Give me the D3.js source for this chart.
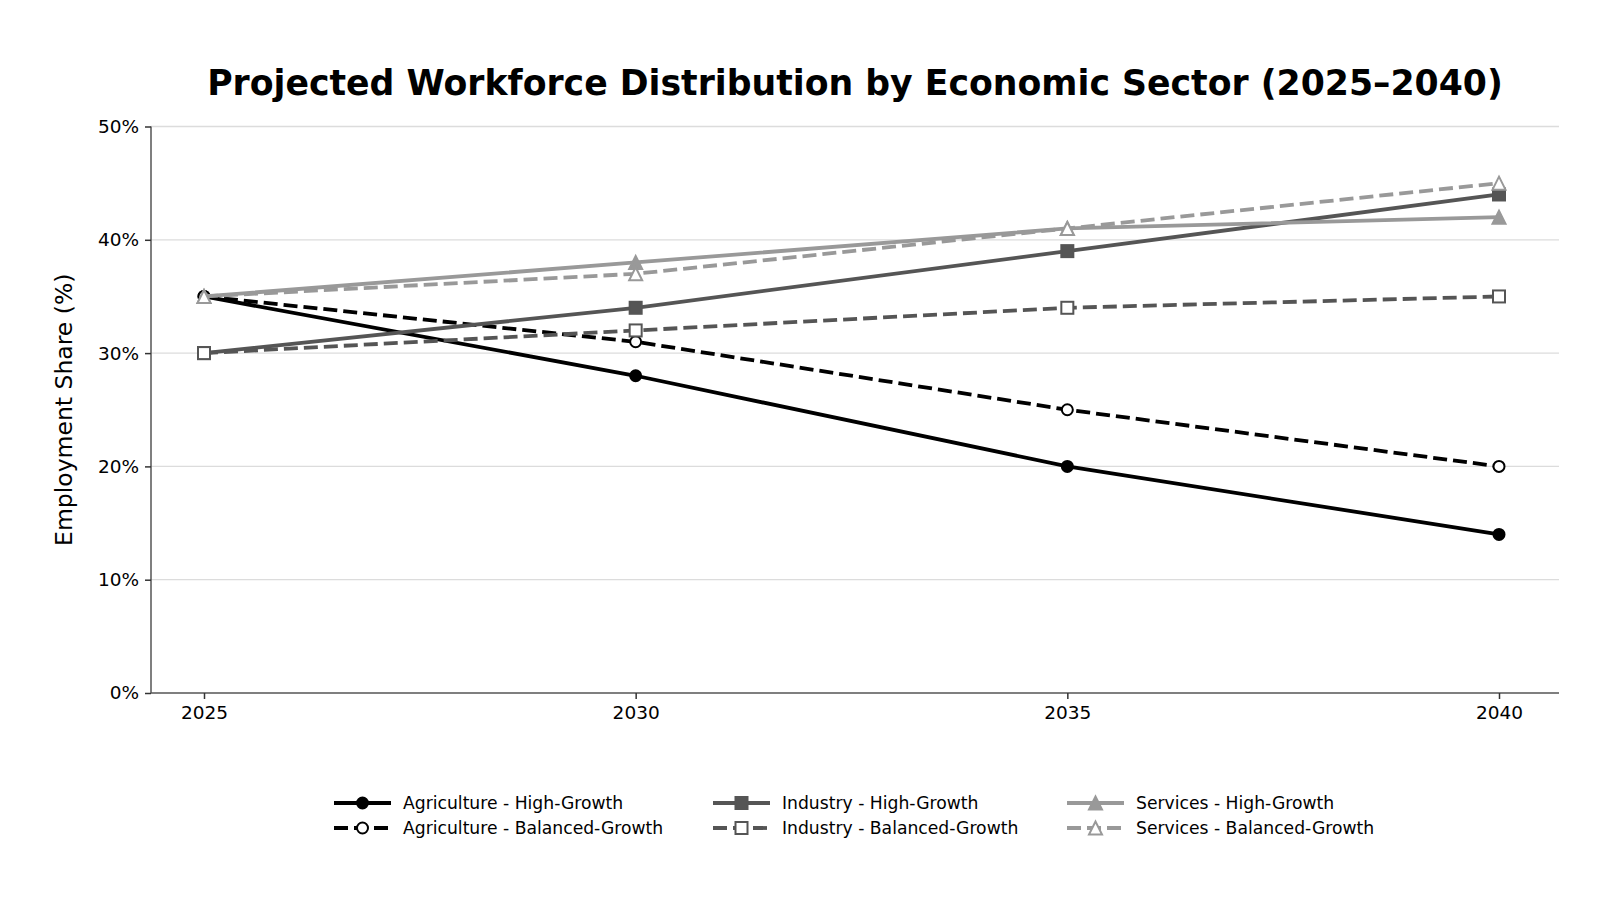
<!DOCTYPE html>
<html><head><meta charset="utf-8">
<script src="https://cdn.jsdelivr.net/npm/d3@7"></script>
<style>body{margin:0;background:#fff;font-family:"DejaVu Sans",sans-serif;}</style>
</head><body>
<svg id="c" width="1600" height="900"></svg>
<script>
const years = [2025, 2030, 2035, 2040];
const agricultureHigh = [35, 28, 20, 14];
const agricultureBalanced = [35, 31, 25, 20];
const industryHigh = [30, 34, 39, 44];
const industryBalanced = [30, 32, 34, 35];
const servicesHigh = [35, 38, 41, 42];
const servicesBalanced = [35, 37, 41, 45];
const yTicks = [0, 10, 20, 30, 40, 50];

const series = [
  {name:"Agriculture - High-Growth", values:agricultureHigh, color:"#000000", dash:false, marker:"circle", fill:true},
  {name:"Agriculture - Balanced-Growth", values:agricultureBalanced, color:"#000000", dash:true, marker:"circle", fill:false},
  {name:"Industry - High-Growth", values:industryHigh, color:"#555555", dash:false, marker:"square", fill:true},
  {name:"Industry - Balanced-Growth", values:industryBalanced, color:"#555555", dash:true, marker:"square", fill:false},
  {name:"Services - High-Growth", values:servicesHigh, color:"#999999", dash:false, marker:"triangle", fill:true},
  {name:"Services - Balanced-Growth", values:servicesBalanced, color:"#999999", dash:true, marker:"triangle", fill:false}
];

(function(){
const svg = d3.select("#c");
const pLeft = 151, pRight = 1559, pTop = 126.5, pBottom = 693;
const x = d3.scaleLinear().domain([2025, 2040]).range([204, 1499]);
const y = d3.scaleLinear().domain([0, 50]).range([pBottom, pTop]);
const FONT = "DejaVu Sans";

// gridlines
svg.append("g").selectAll("line").data(yTicks.filter(d=>d>0)).join("line")
  .attr("x1", pLeft).attr("x2", pRight)
  .attr("y1", d=>y(d)).attr("y2", d=>y(d))
  .attr("stroke", "#dcdcdc").attr("stroke-width", 1.3);

// axes
const yAxis = d3.axisLeft(y).tickValues(yTicks).tickFormat(d=>d+"%").tickSize(6).tickPadding(6);
const gy = svg.append("g").attr("transform", `translate(${pLeft},0)`).call(yAxis);
gy.select(".domain").attr("d", `M0,${pBottom}V${pTop}`);
gy.selectAll(".domain").attr("stroke", "#555").attr("stroke-width", 1.5);
gy.selectAll(".tick line").attr("stroke", "#333").attr("stroke-width", 1.5);
gy.selectAll("text").attr("font-size", 18.5).attr("fill", "#000").attr("font-family", FONT);

const xAxis = d3.axisBottom(x).tickValues(years).tickFormat(d3.format("d")).tickSize(6).tickPadding(7);
const gx = svg.append("g").attr("transform", `translate(0,${pBottom})`).call(xAxis);
gx.select(".domain").attr("d", `M${pLeft},0H${pRight}`);
gx.selectAll(".domain").attr("stroke", "#555").attr("stroke-width", 1.5);
gx.selectAll(".tick line").attr("stroke", "#333").attr("stroke-width", 1.5);
gx.selectAll("text").attr("font-size", 18.5).attr("fill", "#000").attr("font-family", FONT);

// title
svg.append("text").attr("x", 855).attr("y", 95).attr("text-anchor", "middle")
  .attr("font-size", 34.7).attr("font-weight", "bold").attr("font-family", FONT)
  .text("Projected Workforce Distribution by Economic Sector (2025–2040)");

// y label
svg.append("text").attr("transform", `translate(72,${(pTop+pBottom)/2}) rotate(-90)`)
  .attr("text-anchor", "middle").attr("font-size", 23.5).attr("font-family", FONT)
  .text("Employment Share (%)");

const line = d3.line().x((d,i)=>x(years[i])).y(d=>y(d));

function drawMarker(g, s, cx, cy) {
  const fill = s.fill ? s.color : "#fff";
  if (s.marker === "circle") {
    g.append("circle").attr("cx", cx).attr("cy", cy).attr("r", 5.5)
      .attr("fill", fill).attr("stroke", s.color).attr("stroke-width", 2);
  } else if (s.marker === "square") {
    g.append("rect").attr("x", cx-6).attr("y", cy-6).attr("width", 12).attr("height", 12)
      .attr("fill", fill).attr("stroke", s.color).attr("stroke-width", 2);
  } else {
    const h = 6.5;
    g.append("path").attr("d", `M${cx},${cy-h}L${cx+h},${cy+h}L${cx-h},${cy+h}Z`)
      .attr("fill", fill).attr("stroke", s.color).attr("stroke-width", 2).attr("stroke-linejoin","miter");
  }
}

const plot = svg.append("g");
series.forEach(s => {
  const g = plot.append("g");
  g.append("path").datum(s.values).attr("d", line)
    .attr("fill", "none").attr("stroke", s.color).attr("stroke-width", 3.8)
    .attr("stroke-dasharray", s.dash ? "14,6" : null);
  s.values.forEach((v,i)=>drawMarker(g, s, x(years[i]), y(v)));
});

// legend
const legCols = [334, 713, 1067];
const legRows = [803, 828];
series.forEach((s, i) => {
  const col = Math.floor(i/2), row = i%2;
  const lx = legCols[col], ly = legRows[row];
  const g = svg.append("g");
  g.append("line").attr("x1", lx).attr("x2", lx+57).attr("y1", ly).attr("y2", ly)
    .attr("stroke", s.color).attr("stroke-width", 3.8)
    .attr("stroke-dasharray", s.dash ? "14,6" : null);
  drawMarker(g, s, lx+28.5, ly);
  g.append("text").attr("x", lx+69).attr("y", ly).attr("dy", "0.35em")
    .attr("font-size", 17.2).attr("font-family", FONT).text(s.name);
});
})();
</script>
</body></html>
